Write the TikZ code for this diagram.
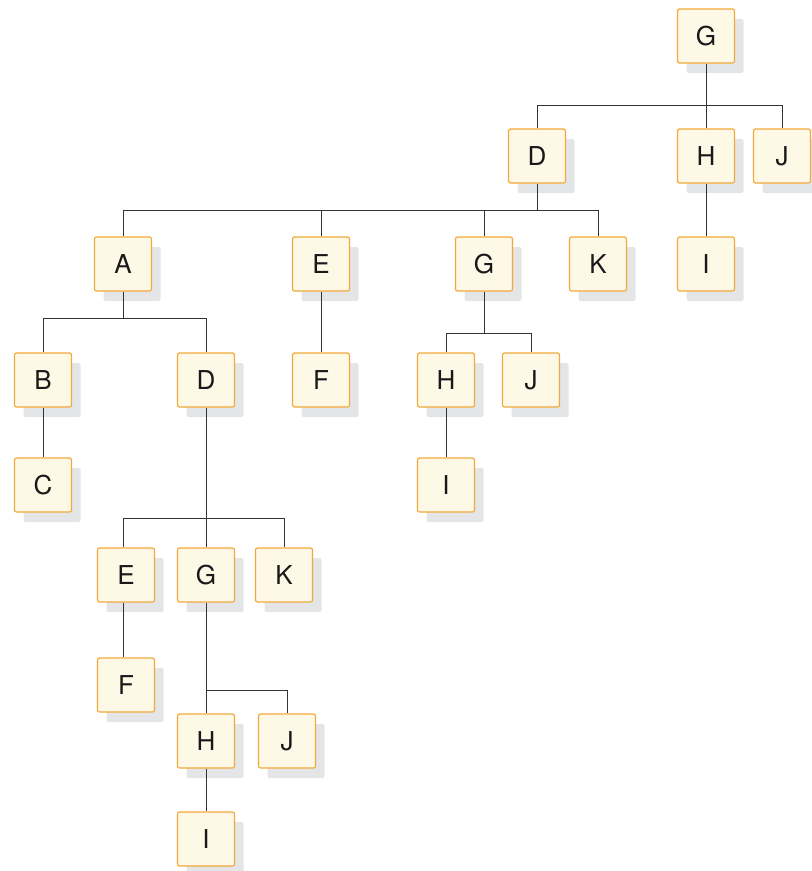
\documentclass[tikz,border=0pt]{standalone}
\usepackage{fontspec}
\setmainfont{TeX Gyre Heros}
\usepackage{xcolor}
\usepackage{tikz}
\usetikzlibrary{shadows}
\definecolor{boxline}{HTML}{F2A93B}
\definecolor{boxfill}{HTML}{FEF8E6}
\definecolor{shadowgray}{HTML}{E4E5E7}
\definecolor{wirecolor}{HTML}{333333}
\begin{document}
\begin{tikzpicture}[x=1pt, y=-1pt,
    box/.style={draw=boxline, fill=boxfill, line width=1.2pt, rounded corners=2pt,
        minimum width=57pt, minimum height=54pt, inner sep=0pt,
        font=\fontsize{26}{26}\selectfont, text=black!90,
        drop shadow={shadow xshift=9pt, shadow yshift=-10pt, fill=shadowgray, opacity=1}},
    wire/.style={draw=wirecolor, line width=1pt}]
    \useasboundingbox (0,0) rectangle (812,871);

    % Upper tree
    \node[box] (g0) at (706,36) {G};
    \node[box] (d1) at (537,156) {D};
    \node[box] (h1) at (706,156) {H};
    \node[box] (j1) at (782,156) {J};
    \node[box] (i1) at (706,264) {I};

    % Lower tree
    \node[box] (a2) at (123,264) {A};
    \node[box] (e2) at (321,264) {E};
    \node[box] (g2) at (484,264) {G};
    \node[box] (k2) at (598,264) {K};
    \node[box] (b3) at (43,380) {B};
    \node[box] (d3) at (206,380) {D};
    \node[box] (f3) at (321,380) {F};
    \node[box] (h3) at (446,380) {H};
    \node[box] (j3) at (531,380) {J};
    \node[box] (c4) at (43,485) {C};
    \node[box] (i4) at (446,485) {I};
    \node[box] (e5) at (126,575) {E};
    \node[box] (g5) at (206,575) {G};
    \node[box] (k5) at (284,575) {K};
    \node[box] (f6) at (126,685) {F};
    \node[box] (h6) at (206,741) {H};
    \node[box] (j6) at (287,741) {J};
    \node[box] (i7) at (206,839) {I};

    % Connectors of the upper tree
    \draw[wire] (g0.south) -- (g0.south |- 0,105);
    \draw[wire] (d1.north) |- (j1.north |- 0,105) -- (j1.north);
    \draw[wire] (h1.north) -- (h1.north |- 0,105);
    \draw[wire] (h1.south) -- (i1.north);

    % Connectors of the lower tree
    \draw[wire] (d1.south) -- (d1.south |- 0,210);
    \draw[wire] (a2.north) |- (k2.north |- 0,210) -- (k2.north);
    \draw[wire] (e2.north) -- (e2.north |- 0,210);
    \draw[wire] (g2.north) -- (g2.north |- 0,210);
    \draw[wire] (a2.south) -- (a2.south |- 0,318);
    \draw[wire] (b3.north) |- (d3.north |- 0,318) -- (d3.north);
    \draw[wire] (e2.south) -- (f3.north);
    \draw[wire] (g2.south) -- (g2.south |- 0,333);
    \draw[wire] (h3.north) |- (j3.north |- 0,333) -- (j3.north);
    \draw[wire] (b3.south) -- (c4.north);
    \draw[wire] (h3.south) -- (i4.north);
    \draw[wire] (d3.south) -- (g5.north);
    \draw[wire] ([xshift=-3pt]e5.north) |- (k5.north |- 0,518) -- (k5.north);
    \draw[wire] ([xshift=-3pt]e5.south) -- ([xshift=-3pt]f6.north);
    \draw[wire] (g5.south) -- (h6.north);
    \draw[wire] (h6.north |- 0,690) -| (j6.north);
    \draw[wire] (h6.south) -- (i7.north);
\end{tikzpicture}
\end{document}
